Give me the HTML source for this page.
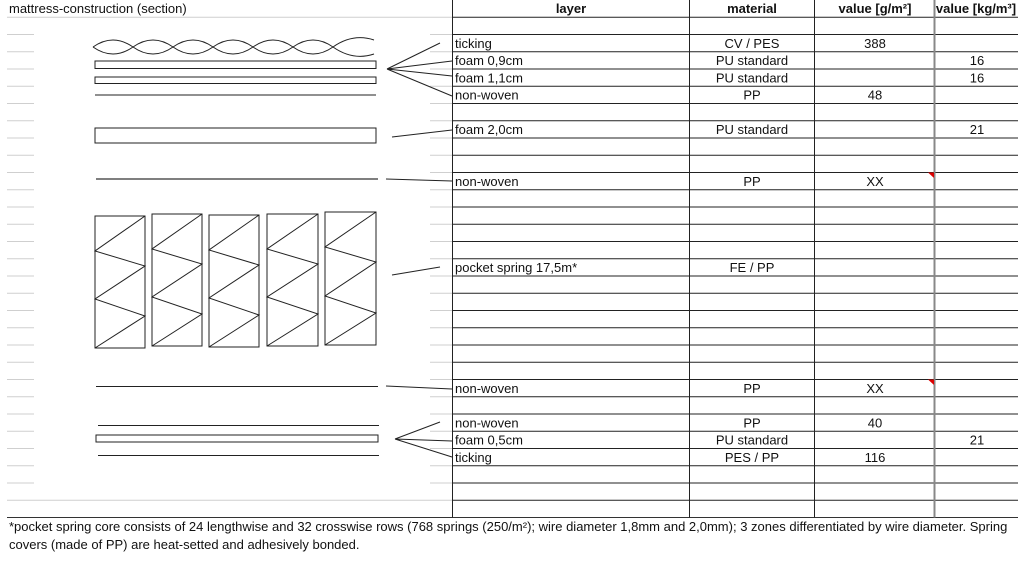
<!DOCTYPE html>
<html><head><meta charset="utf-8"><style>
html,body{margin:0;padding:0;background:#fff;}
svg{display:block;}
text{font-family:"Liberation Sans",Arial,sans-serif;font-size:13px;fill:#111;}
.b{font-weight:bold;}
</style></head><body>
<svg width="1024" height="576" viewBox="0 0 1024 576" xmlns="http://www.w3.org/2000/svg">
<g stroke="#cfcfcf" stroke-width="1">
<line x1="7" y1="17.25" x2="452" y2="17.25"/>
<line x1="7" y1="500.25" x2="452" y2="500.25"/>
<path d="M7 34.5H34M7 51.75H34M7 69H34M7 86.25H34M7 103.5H34M7 120.75H34M7 138H34M7 155.25H34M7 172.5H34M7 189.75H34M7 207H34M7 224.25H34M7 241.5H34M7 258.75H34M7 276H34M7 293.25H34M7 310.5H34M7 327.75H34M7 345H34M7 362.25H34M7 379.5H34M7 396.75H34M7 414H34M7 431.25H34M7 448.5H34M7 465.75H34M7 483H34"/>
<path d="M430 34.5H452M430 51.75H452M430 69H452M430 86.25H452M430 103.5H452M430 120.75H452M430 138H452M430 155.25H452M430 172.5H452M430 189.75H452M430 207H452M430 224.25H452M430 241.5H452M430 258.75H452M430 276H452M430 293.25H452M430 310.5H452M430 327.75H452M430 345H452M430 362.25H452M430 379.5H452M430 396.75H452M430 414H452M430 431.25H452M430 448.5H452M430 465.75H452M430 483H452"/>
</g>
<g stroke="#222" stroke-width="1">
<path d="M452 17.25H1018M452 34.5H1018M452 51.75H1018M452 69H1018M452 86.25H1018M452 103.5H1018M452 120.75H1018M452 138H1018M452 155.25H1018M452 172.5H1018M452 189.75H1018M452 207H1018M452 224.25H1018M452 241.5H1018M452 258.75H1018M452 276H1018M452 293.25H1018M452 310.5H1018M452 327.75H1018M452 345H1018M452 362.25H1018M452 379.5H1018M452 396.75H1018M452 414H1018M452 431.25H1018M452 448.5H1018M452 465.75H1018M452 483H1018M452 500.25H1018"/>
<line x1="7" y1="517.5" x2="1018" y2="517.5" stroke="#333"/>
<line x1="452.5" y1="0" x2="452.5" y2="517.5"/>
<line x1="689.5" y1="0" x2="689.5" y2="517.5"/>
<line x1="814.5" y1="0" x2="814.5" y2="517.5"/>
</g>
<line x1="934.5" y1="0" x2="934.5" y2="517.5" stroke="#888" stroke-width="2"/>
<path d="M928 172.5H934V178Z" fill="#d00"/>
<path d="M928 379.5H934V385Z" fill="#d00"/>
<text x="9" y="13">mattress-construction (section)</text>
<text class="b" x="571" y="13" text-anchor="middle">layer</text>
<text class="b" x="752" y="13" text-anchor="middle">material</text>
<text class="b" x="875" y="13" text-anchor="middle">value [g/m²]</text>
<text class="b" x="976" y="13" text-anchor="middle">value [kg/m³]</text>
<g>
<text x="455" y="47.8">ticking</text><text x="752" y="47.8" text-anchor="middle">CV / PES</text><text x="875" y="47.8" text-anchor="middle">388</text>
<text x="455" y="65">foam 0,9cm</text><text x="752" y="65" text-anchor="middle">PU standard</text><text x="977" y="65" text-anchor="middle">16</text>
<text x="455" y="82.3">foam 1,1cm</text><text x="752" y="82.3" text-anchor="middle">PU standard</text><text x="977" y="82.3" text-anchor="middle">16</text>
<text x="455" y="99.5">non-woven</text><text x="752" y="99.5" text-anchor="middle">PP</text><text x="875" y="99.5" text-anchor="middle">48</text>
<text x="455" y="134">foam 2,0cm</text><text x="752" y="134" text-anchor="middle">PU standard</text><text x="977" y="134" text-anchor="middle">21</text>
<text x="455" y="185.8">non-woven</text><text x="752" y="185.8" text-anchor="middle">PP</text><text x="875" y="185.8" text-anchor="middle">XX</text>
<text x="455" y="272">pocket spring 17,5m*</text><text x="752" y="272" text-anchor="middle">FE / PP</text>
<text x="455" y="392.8">non-woven</text><text x="752" y="392.8" text-anchor="middle">PP</text><text x="875" y="392.8" text-anchor="middle">XX</text>
<text x="455" y="427.3">non-woven</text><text x="752" y="427.3" text-anchor="middle">PP</text><text x="875" y="427.3" text-anchor="middle">40</text>
<text x="455" y="444.5">foam 0,5cm</text><text x="752" y="444.5" text-anchor="middle">PU standard</text><text x="977" y="444.5" text-anchor="middle">21</text>
<text x="455" y="461.8">ticking</text><text x="752" y="461.8" text-anchor="middle">PES / PP</text><text x="875" y="461.8" text-anchor="middle">116</text>
</g>
<text x="9" y="531">*pocket spring core consists of 24 lengthwise and 32 crosswise rows (768 springs (250/m²); wire diameter 1,8mm and 2,0mm); 3 zones differentiated by wire diameter. Spring</text>
<text x="9" y="549">covers (made of PP) are heat-setted and adhesively bonded.</text>
<g fill="none" stroke="#222" stroke-width="1">
<path d="M93 47Q113 33 133 47Q153 61 173 47Q193 33 213 47Q233 61 253 47Q273 33 293 47Q313 61 333 47Q353 33 374 40M93 47Q113 61 133 47Q153 33 173 47Q193 61 213 47Q233 33 253 47Q273 61 293 47Q313 33 333 47Q353 61 374 54"/>
<rect x="95" y="61" width="281" height="7.5"/>
<rect x="95" y="77" width="281" height="6.5"/>
<line x1="95" y1="95" x2="376" y2="95"/>
<rect x="95" y="128" width="281" height="15"/>
<line x1="96" y1="179" x2="378" y2="179" stroke="#555" stroke-width="1.5"/>
<rect x="95" y="216" width="50" height="132"/>
<path d="M145 216L95 251L145 266L95 299L145 316L95 348"/>
<rect x="152" y="214" width="50" height="132"/>
<path d="M202 214L152 249L202 264L152 297L202 314L152 346"/>
<rect x="209" y="215" width="50" height="132"/>
<path d="M259 215L209 250L259 265L209 298L259 315L209 347"/>
<rect x="267" y="214" width="51" height="132"/>
<path d="M318 214L267 249L318 264L267 297L318 314L267 346"/>
<rect x="325" y="212" width="51" height="133"/>
<path d="M376 212L325 247L376 262L325 296L376 313L325 345"/>
<line x1="96" y1="386.5" x2="378" y2="386.5"/>
<line x1="98" y1="425.5" x2="379" y2="425.5"/>
<rect x="96" y="435" width="282" height="7"/>
<line x1="98" y1="455.5" x2="379" y2="455.5"/>
<path d="M387 69L440 43M387 69L452 61M387 69L452 76M387 69L452 96"/>
<path d="M392 137L452 130"/>
<path d="M386 179L452 181"/>
<path d="M392 275L440 267"/>
<path d="M386 386L452 389"/>
<path d="M395 439L440 422M395 439L452 441M395 439L452 457"/>
</g>
</svg>
</body></html>
